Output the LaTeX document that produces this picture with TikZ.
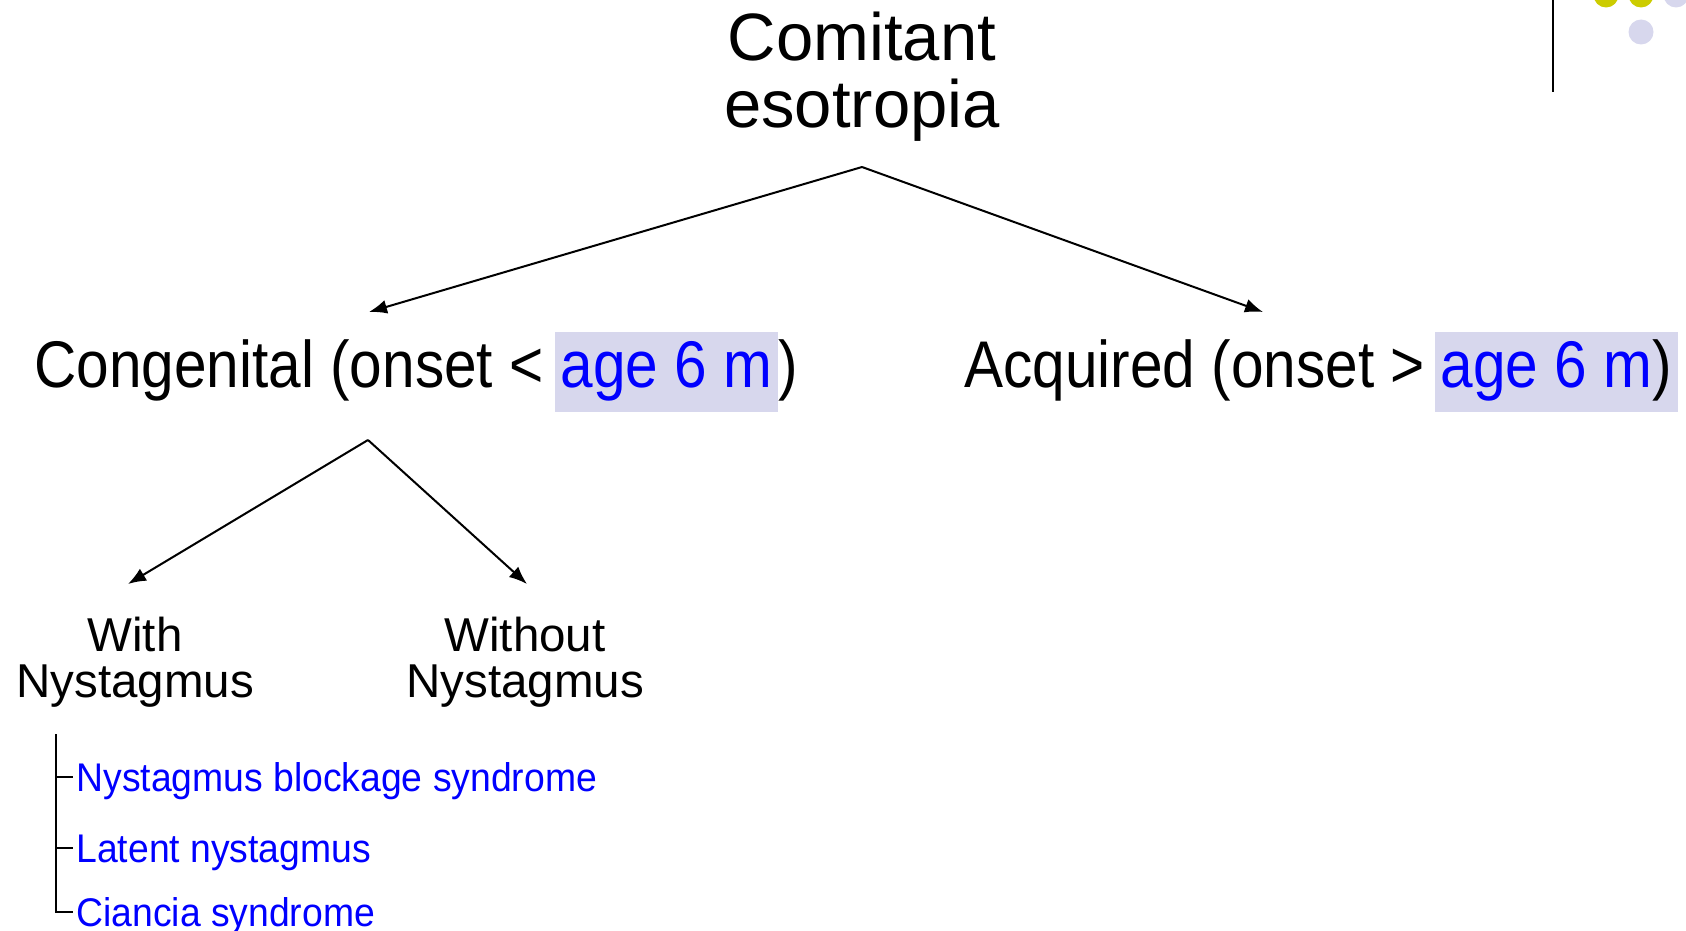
\documentclass[tikz,border=0pt]{standalone}
\usepackage{fontspec}
\setmainfont{Liberation Sans}
\newfontfamily\rowfont[FakeStretch=0.887]{Liberation Sans}
\newfontfamily\listfont[FakeStretch=0.933]{Liberation Sans}
\usetikzlibrary{positioning}
\usetikzlibrary{arrows.meta}

\definecolor{hlfill}{RGB}{215,215,237}
\definecolor{dotyellow}{RGB}{204,204,0}
\definecolor{dotlilac}{RGB}{215,215,237}

\begin{document}
\begin{tikzpicture}[
  x=0.5pt, y=-0.5pt,
  branch/.style={-{Latex[length=9pt,width=7pt]}, line width=1pt},
  titlenode/.style={align=center, inner sep=0pt, font=\fontsize{33.5pt}{33.5pt}\selectfont},
  catnode/.style={inner sep=0pt, font=\rowfont\fontsize{33pt}{36pt}\selectfont},
  agebox/.style={catnode, fill=hlfill, text=blue, inner xsep=3pt, inner ysep=0pt, text height=27.5pt, text depth=12.5pt},
  subnode/.style={align=center, inner sep=0pt, font=\fontsize{23.75pt}{23pt}\selectfont},
  itemnode/.style={anchor=west, inner ysep=0pt, inner xsep=1.5pt, text=blue, text height=14.3pt, text depth=0pt, font=\listfont\fontsize{20pt}{24pt}\selectfont}
]
\useasboundingbox (0,0) rectangle (1686,931);

% corner marks
\draw[line width=1pt] (1553,0) -- (1553,92);
\fill[dotyellow] (1606,-5) circle[radius=6.25pt];
\fill[dotyellow] (1641,-5) circle[radius=6.25pt];
\fill[dotlilac] (1676,-5) circle[radius=6.25pt];
\fill[dotlilac] (1641,32) circle[radius=6.25pt];

\node[titlenode, anchor=north] (top) at (862,12) {Comitant\\esotropia};

% first split
\node[catnode, anchor=base west] (cong) at (34,387) {Congenital (onset <};
\node[agebox, base right=5pt of cong] (congage) {age 6 m};
\node[catnode, base right=0pt of congage] (congend) {)};

\node[catnode, anchor=base west] (acq) at (964,387) {Acquired (onset >};
\node[agebox, base right=4.5pt of acq] (acqage) {age 6 m\textcolor{black}{)}};

\coordinate (split) at (862,167);
\coordinate (congtip) at (369,312);
\coordinate (acqtip) at (1263,312);

\path (split) edge[branch] (congtip)
(split) edge[branch] (acqtip)
;

% second split
\node[subnode, anchor=north] (with) at (135,617) {With\\Nystagmus};
\node[subnode, anchor=north] (without) at (525,617) {Without\\Nystagmus};

\coordinate (split2) at (368,440);
\coordinate (withtip) at (128,584);
\coordinate (withouttip) at (527,584);

\path (split2) edge[branch] (withtip)
(split2) edge[branch] (withouttip)
;

% list under "with nystagmus"
\coordinate (listtop) at (56,734);
\node[itemnode] (blockage) at (73,777) {Nystagmus blockage syndrome};
\node[itemnode] (latent) at (73,848) {Latent nystagmus};
\node[itemnode] (ciancia) at (73,912) {Ciancia syndrome};

\draw[line width=1pt] (listtop) |- (ciancia.west);
\draw[line width=1pt] (blockage.west -| listtop) -- (blockage.west);
\draw[line width=1pt] (latent.west -| listtop) -- (latent.west);

\end{tikzpicture}
\end{document}
